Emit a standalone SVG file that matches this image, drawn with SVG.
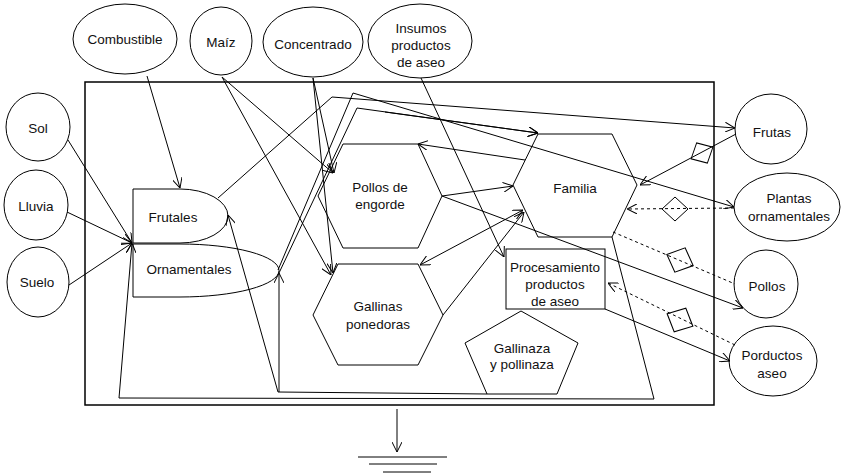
<svg xmlns="http://www.w3.org/2000/svg" width="843" height="474" viewBox="0 0 843 474">
<style>
.n{fill:#fff;stroke:#000;stroke-width:1}
.t{font-family:"Liberation Sans",Arial,sans-serif;font-size:13.5px;fill:#111;text-anchor:middle}
.c{fill:none;stroke:#000;stroke-width:1}
.a{marker-end:url(#ar)}
.d{stroke-dasharray:3,3}
.dm{fill:none;stroke:#000;stroke-width:1}
</style>
<defs>
<marker id="ar" viewBox="0 0 10 10" refX="10" refY="5" markerWidth="10" markerHeight="10" markerUnits="userSpaceOnUse" orient="auto-start-reverse">
<path d="M0,0 L10,5 L0,10" fill="none" stroke="#000" stroke-width="1"/>
</marker>
<polygon id="dia" points="-13,0 0,-12 13,0 0,12"/>
</defs>
<rect x="85" y="82" width="629" height="323" fill="#fff" stroke="#000" stroke-width="1.5"/>

<g id="combustible"><ellipse class="n" cx="125" cy="39" rx="52" ry="35"/><text class="t" x="125" y="44">Combustible</text></g>
<g id="maiz"><ellipse class="n" cx="221" cy="41" rx="31" ry="34"/><text class="t" x="221" y="47">Maíz</text></g>
<g id="concentrado"><ellipse class="n" cx="313" cy="42" rx="50" ry="35"/><text class="t" x="313" y="49">Concentrado</text></g>
<g id="insumos"><ellipse class="n" cx="420" cy="41" rx="52" ry="37"/><text class="t" x="421" y="33">Insumos</text><text class="t" x="421" y="50">productos</text><text class="t" x="421" y="67">de aseo</text></g>
<g id="sol"><ellipse class="n" cx="38" cy="127" rx="32" ry="34"/><text class="t" x="38" y="133">Sol</text></g>
<g id="lluvia"><ellipse class="n" cx="36" cy="205" rx="32" ry="35"/><text class="t" x="36" y="211">Lluvia</text></g>
<g id="suelo"><ellipse class="n" cx="38" cy="282" rx="31" ry="35"/><text class="t" x="37" y="287">Suelo</text></g>
<g id="frutas"><ellipse class="n" cx="771" cy="129" rx="36" ry="35"/><text class="t" x="772" y="137">Frutas</text></g>
<g id="plantas"><ellipse class="n" cx="787" cy="207" rx="53" ry="34"/><text class="t" x="789" y="203">Plantas</text><text class="t" x="789" y="221">ornamentales</text></g>
<g id="pollos"><ellipse class="n" cx="766" cy="284" rx="32" ry="34"/><text class="t" x="767" y="291">Pollos</text></g>
<g id="porductos"><ellipse class="n" cx="773" cy="361" rx="44" ry="35"/><text class="t" x="772" y="360">Porductos</text><text class="t" x="772" y="378">aseo</text></g>

<g id="frutales"><path class="n" d="M133,189 H180 A48,27 0 0 1 180,243 H133 Z"/><text class="t" x="173" y="222">Frutales</text></g>
<g id="ornamentales"><path class="n" d="M133,244 H180 A99,26.5 0 0 1 180,297 H133 Z"/><text class="t" x="189" y="274">Ornamentales</text></g>
<g id="pollos-engorde"><polygon class="n" points="343,144 418,144 442,196 418,248 343,248 318,196"/><text class="t" x="380" y="192">Pollos de</text><text class="t" x="380" y="209">engorde</text></g>
<g id="gallinas"><polygon class="n" points="338,264 418,264 443,315 418,365 338,365 313,315"/><text class="t" x="378" y="311">Gallinas</text><text class="t" x="378" y="329">ponedoras</text></g>
<g id="familia"><polygon class="n" points="538,134 612,134 637,185 612,237 538,237 513,185"/><text class="t" x="575" y="193">Familia</text></g>
<g id="procesamiento"><rect class="n" x="506" y="249" width="99" height="60"/><text class="t" x="555" y="272">Procesamiento</text><text class="t" x="555" y="289">productos</text><text class="t" x="555" y="306">de aseo</text></g>
<g id="gallinaza"><polygon class="n" points="521,311 578,343 557,394 487,394 465,343"/><text class="t" x="522" y="353">Gallinaza</text><text class="t" x="522" y="369">y pollinaza</text></g>

<g id="connectors">
<path class="c a" d="M147,76 L180,188"/>
<path class="c a" d="M68,140 L132,243"/>
<path class="c a" d="M67,212 L132,243"/>
<path class="c a" d="M69,285 L132,243"/>
<path class="c a" d="M612,237 L654,399 L119,398 L132,243"/>
<path class="c a" d="M487,394 L278,392 L228,215"/>
<path class="c a" d="M279,392 L279,273"/>
<path class="c a" d="M218,198 L332,97 L735,128"/>
<path class="c a" d="M278,270 L353,93 L734,207"/>
<path class="c a" d="M279,273 L357,108 L538,133"/>
<path class="c a" d="M385,112 L538,133"/>
<path class="c a" d="M222,77 L333,173"/>
<path class="c a" d="M222,77 L331,275"/>
<path class="c a" d="M313,78 L334,173"/>
<path class="c a" d="M313,78 L333,273"/>
<path class="c a" d="M421,78 L504,257"/>
<path class="c a" d="M525,160 L418,144"/>
<path class="c a" d="M442,196 L513,186"/>
<path class="c a" d="M442,196 L743,308"/>
<path class="c a" d="M420,265 L523,210" marker-start="url(#ar)"/>
<path class="c a" d="M443,315 L524,212"/>
<path class="c a" d="M605,309 L730,361"/>
<path class="c a" d="M736,134 L640,185"/>
<use href="#dia" class="dm" transform="translate(702,153) rotate(-28) scale(0.95)"/>
<path class="c a d" d="M734,208 L627,209"/>
<use href="#dia" class="dm" transform="translate(675,209)"/>
<path class="c d" d="M613,232 L735,284"/>
<use href="#dia" class="dm" transform="translate(680,260) rotate(23) scale(1.1)"/>
<path class="c a d" d="M735,345 L608,283"/>
<use href="#dia" class="dm" transform="translate(680,320) rotate(26) scale(1.1)"/>
<path class="c a" d="M397,409 L397,452"/>
<path class="c" d="M358,457 H447 M369,464 H437 M383,472 H431"/>
</g>
</svg>
